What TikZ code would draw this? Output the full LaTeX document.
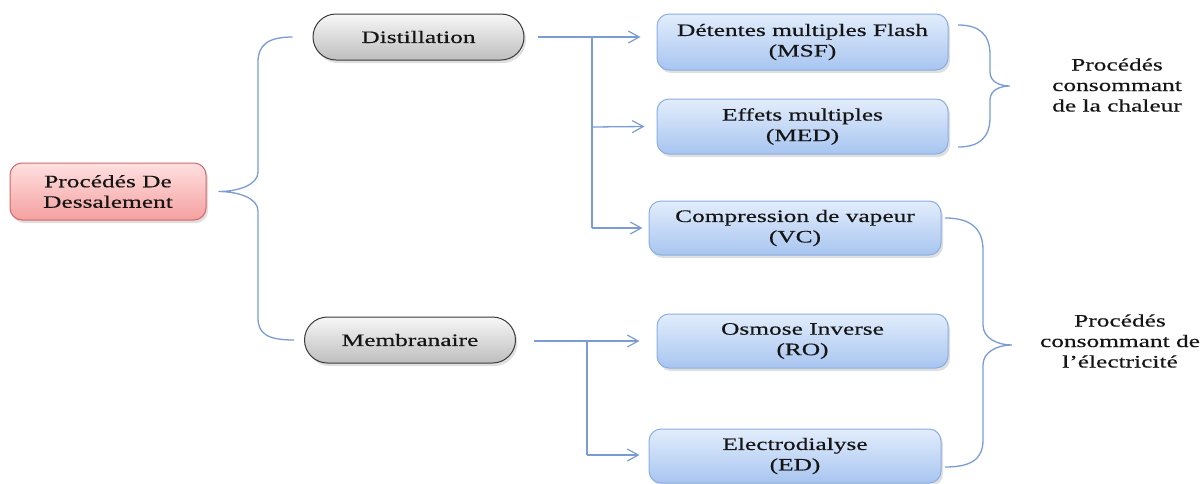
\documentclass[tikz,border=0pt]{standalone}
\usepackage{fontspec}
\setmainfont{Liberation Serif}[FakeStretch=1.45,FakeBold=0.4]
\usetikzlibrary{arrows.meta,shadows,calc}
\definecolor{lnc}{HTML}{7A9CD3}
\definecolor{rtop}{HTML}{FFE0E0}
\definecolor{rbot}{HTML}{F5A0A0}
\definecolor{rbord}{HTML}{D06868}
\definecolor{gtop}{HTML}{F7F7F7}
\definecolor{gbot}{HTML}{BEBEBE}
\definecolor{gbord}{HTML}{3A3A3A}
\definecolor{btop}{HTML}{E2EDFC}
\definecolor{bbot}{HTML}{A8C5F0}
\definecolor{bbord}{HTML}{8AAEE2}
\definecolor{txt}{HTML}{151515}
\tikzset{
  shad/.style={drop shadow={shadow xshift=2pt,shadow yshift=-3pt,opacity=0.25}},
  rootbox/.style={shad,draw=rbord,line width=1pt,rounded corners=12pt,top color=rtop,bottom color=rbot,align=center,text=txt,inner sep=0pt},
  pillbox/.style={shad,draw=gbord,line width=1pt,rounded corners=23pt,top color=gtop,bottom color=gbot,align=center,text=txt,minimum width=211pt,minimum height=46pt,inner sep=0pt},
  bluebox/.style={shad,draw=bbord,line width=1pt,rounded corners=12pt,top color=btop,bottom color=bbot,align=center,text=txt,inner sep=0pt},
  lbl/.style={align=center,text=txt,inner sep=0pt},
  conn/.style={draw=lnc,line width=1.3pt},
  arr/.style={conn,-{Straight Barb[length=11pt,width=12pt,line width=1.2pt]}},
}
\begin{document}
\begin{tikzpicture}[x=1pt,y=-1pt,font=\fontsize{17.5}{20.5}\selectfont]
\useasboundingbox (0,0) rectangle (1202,483);

\node[rootbox,minimum width=196pt,minimum height=57pt] (root) at (108,191.5) {Procédés De\\Dessalement};
\node[pillbox] (dist) at (418.5,37) {Distillation};
\node[pillbox] (memb) at (410,340) {Membranaire};

\node[bluebox,minimum width=291pt,minimum height=56pt] (msf) at (802.5,42) {Détentes multiples Flash\\(MSF)};
\node[bluebox,minimum width=291pt,minimum height=55pt] (med) at (802.5,126.5) {Effets multiples\\(MED)};
\node[bluebox,minimum width=292pt,minimum height=54pt] (vc) at (795,228) {Compression de vapeur\\(VC)};
\node[bluebox,minimum width=291pt,minimum height=54pt] (ro) at (802.5,341) {Osmose Inverse\\(RO)};
\node[bluebox,minimum width=292pt,minimum height=54pt] (ed) at (795,456) {Electrodialyse\\(ED)};

\node[lbl] (heat) at (1117,85) {Procédés\\consommant\\de la chaleur};
\node[lbl] (elec) at (1120,341) {Procédés\\consommant de\\l’électricité};

% left brace
\coordinate (lbtop) at ($(dist.west)+(-20,0)$);
\coordinate (lbbot) at ($(memb.west)+(-10,0)$);
\coordinate (lbtip) at ($(root.east)+(12,0)$);
\draw[conn] (lbtop) .. controls (268,37) and (258,45) .. (258,62) -- (258,172)
  .. controls (258,185) and (238,191.5) .. (lbtip)
  .. controls (238,191.5) and (258,198) .. (258,211) -- (258,318)
  .. controls (258,334) and (268,340) .. (lbbot);

% distillation branches
\coordinate (dj) at (592,37);
\draw[conn,shorten <=13pt] (dist.east) -- (dj);
\draw[arr] (dj) -- ($(dist.east -| msf.west)+(-16,0)$);
\draw[conn] (dj) -- (592,228);
\draw[arr] (592,127) -- ($(med.west)+(-12,0)$);
\draw[arr] (592,228) -- ($(vc.west)+(-6,0)$);

% membrane branches
\coordinate (mj) at (587,341);
\draw[conn] ($(memb.east)+(18,1)$) -- (mj);
\draw[arr] (mj) -- ($(ro.west)+(-17,0)$);
\draw[conn] (mj) -- (587,455);
\draw[arr] (587,455) -- ($(ed.west)+(-9,-1)$);

% right braces
\draw[conn] (958,25) .. controls (980,25) and (990,35) .. (990,55) -- (990,72)
  .. controls (990,82) and (1000,86) .. (1010,86)
  .. controls (1000,86) and (990,90) .. (990,100) -- (990,117)
  .. controls (990,137) and (980,147) .. (958,147);
\draw[conn] (945,218) .. controls (970,218) and (983,228) .. (983,250) -- (983,325)
  .. controls (983,338) and (997,345) .. (1012,345)
  .. controls (997,345) and (983,352) .. (983,365) -- (983,440)
  .. controls (983,460) and (970,467) .. (945,467);
\end{tikzpicture}
\end{document}
